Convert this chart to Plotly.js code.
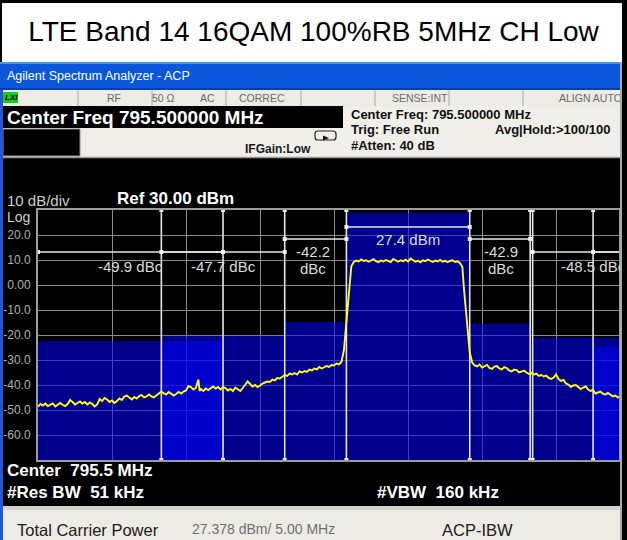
<!DOCTYPE html>
<html><head><meta charset="utf-8">
<script src="https://cdn.plot.ly/plotly-3.0.1.min.js"></script>
<style>
html,body{margin:0;padding:0;background:#fff;overflow:hidden}
#wrap{position:relative;width:627px;height:540px}
#chart{width:627px;height:540px}
.fr{position:absolute;pointer-events:none}
</style></head><body>
<div id="wrap"><div id="chart"></div>
<div class="fr" style="left:0;top:0;width:627px;height:3px;background:#000"></div>
<div class="fr" style="left:0;top:0;width:2px;height:62px;background:#000"></div>
<div class="fr" style="left:622px;top:0;width:5px;height:62px;background:#000"></div>
<div class="fr" style="left:620px;top:62px;width:7px;height:478px;background:#000;border-left:2px solid #a8a8a8;box-sizing:border-box"></div>
</div>
<script>
// ---- spectrum trace (MHz offset from 795.5 MHz centre, dBm) ----
const freqMHz = [
 -15.0,-14.9,-14.8,-14.7,-14.6,-14.5,-14.4,-14.3,-14.2,-14.1,
 -14.0,-13.9,-13.8,-13.7,-13.6,-13.5,-13.4,-13.3,-13.2,-13.1,
 -13.0,-12.9,-12.8,-12.7,-12.6,-12.5,-12.4,-12.3,-12.2,-12.1,
 -12.0,-11.9,-11.8,-11.7,-11.6,-11.5,-11.4,-11.3,-11.2,-11.1,
 -11.0,-10.9,-10.8,-10.7,-10.6,-10.5,-10.4,-10.3,-10.2,-10.1,
 -10.0,-9.9,-9.8,-9.7,-9.6,-9.5,-9.4,-9.3,-9.2,-9.1,
 -9.0,-8.9,-8.8,-8.7,-8.6,-8.5,-8.45,-8.4,-8.3,-8.2,-8.1,
 -8.0,-7.9,-7.8,-7.7,-7.6,-7.5,-7.4,-7.3,-7.2,-7.1,
 -7.0,-6.9,-6.8,-6.7,-6.6,-6.5,-6.4,-6.3,-6.2,-6.1,
 -6.0,-5.9,-5.8,-5.7,-5.6,-5.5,-5.4,-5.3,-5.2,-5.1,
 -5.0,-4.9,-4.8,-4.7,-4.6,-4.5,-4.4,-4.3,-4.2,-4.1,
 -4.0,-3.9,-3.8,-3.7,-3.6,-3.5,-3.4,-3.3,-3.2,-3.1,
 -3.0,-2.9,-2.8,-2.7,-2.6,-2.5,-2.4,-2.3,-2.2,
 -2.1,-2.0,-1.9,-1.8,-1.7,-1.6,-1.5,-1.4,-1.3,-1.2,
 -1.1,-1.0,-0.9,-0.8,-0.7,-0.6,-0.5,-0.4,-0.3,-0.2,
 -0.1,0.0,0.1,0.2,0.3,0.4,0.5,0.6,0.7,0.8,
 0.9,1.0,1.1,1.2,1.3,1.4,1.5,1.6,1.7,1.8,
 1.9,2.0,2.1,2.2,2.27,2.38,2.5,2.6,
 2.7,2.8,2.9,3.0,3.1,3.2,3.3,3.4,3.5,3.6,
 3.7,3.8,3.9,4.0,4.1,4.2,4.3,4.4,4.5,4.6,
 4.7,4.8,4.9,5.0,5.1,5.2,5.3,5.4,5.5,5.6,
 5.7,5.8,5.9,6.0,6.1,6.2,6.3,6.4,6.5,6.6,
 6.7,6.8,6.9,7.0,7.1,7.2,7.3,7.4,7.5,7.6,
 7.7,7.8,7.9,8.0,8.1,8.2,8.3,8.4,8.5,8.6,
 8.7,8.8
];
const traceDbm = [
 -48.6,-47.6,-48.2,-47.4,-48.4,-47.8,-47.4,-48.6,-48.0,-47.2,
 -47.9,-48.4,-47.6,-46.0,-46.8,-47.8,-47.2,-46.6,-47.4,-46.8,
 -47.8,-47.0,-47.6,-48.6,-47.8,-45.6,-46.4,-45.2,-45.8,-46.8,
 -46.2,-47.2,-46.4,-45.4,-46.0,-44.6,-44.2,-45.2,-45.8,-44.8,
 -45.4,-44.4,-44.0,-45.0,-44.6,-43.8,-44.6,-45.0,-44.2,-43.4,
 -42.6,-43.4,-43.8,-42.8,-43.4,-44.2,-43.6,-42.8,-43.4,-42.6,
 -42.2,-40.4,-40.8,-41.8,-41.2,-37.8,-42.4,-41.6,-42.4,-41.4,-42.0,
 -41.2,-40.6,-41.4,-40.8,-41.8,-40.8,-41.2,-42.2,-41.6,-42.4,
 -41.0,-41.8,-42.4,-41.2,-40.0,-38.6,-39.6,-40.6,-40.0,-40.8,
 -40.2,-39.4,-39.0,-38.6,-38.8,-37.8,-38.2,-37.2,-37.4,-36.6,
 -36.0,-36.4,-35.4,-35.8,-35.2,-35.8,-34.6,-35.0,-34.4,-34.8,
 -33.8,-34.2,-33.4,-33.8,-32.8,-33.4,-33.0,-32.4,-32.8,-32.0,
 -32.2,-31.4,-31.8,-30.8,-26.0,-15.0,-2.0,7.5,9.2,
 9.8,9.4,10.2,9.6,9.9,9.3,9.7,10.3,9.5,9.1,
 9.8,9.4,10.0,9.6,9.2,10.4,9.7,9.3,9.9,9.5,
 10.1,9.4,10.6,9.8,9.3,9.7,9.1,9.9,9.5,10.2,
 9.6,9.2,9.8,9.4,10.0,9.3,9.7,9.1,9.6,9.9,
 9.2,9.5,8.8,7.3,-2.0,-15.3,-27.0,-31.0,
 -32.2,-32.6,-31.8,-33.0,-32.4,-32.0,-33.2,-33.6,-32.6,-32.4,
 -33.4,-33.8,-32.8,-33.2,-34.2,-34.6,-33.8,-34.0,-35.0,-34.6,
 -34.2,-35.0,-35.6,-35.2,-35.8,-35.4,-36.4,-36.0,-36.6,-36.2,
 -37.2,-37.6,-37.0,-35.8,-37.6,-38.4,-38.0,-39.4,-39.8,-40.8,
 -40.2,-40.0,-40.8,-41.6,-41.0,-40.6,-41.8,-42.4,-42.0,-43.4,
 -43.0,-42.6,-43.6,-43.8,-43.2,-43.8,-44.6,-44.2,-45.0,-44.6,
 -45.4,-45.6
];

// ---- ACP bar graph: carrier, offset A (L/R), offset B (L/R), offset C (L/R) ----
const barCenterMHz = [0, -3.75, 3.75, -7.5, 7.5, -11.25, 11.25];
const barWidthMHz  = [5, 2.5, 2.5, 5, 5, 7.5, 7.5];
const barDbm       = [28.8, -14.8, -15.5, -20.3, -21.1, -22.5, -24.8];

// ---- integration brackets ----
const bracketStartMHz = [-2.5, -5, 2.5, -10, -15, 5.05, 7.5];
const bracketEndMHz   = [2.5, -2.5, 4.95, -5, -7.5, 10, 15];
const bracketDbm      = [23.2, 18.4, 18.4, 13.2, 13.2, 13.2, 13.2];

// ---- vertical limit lines ----
const limitLineMHz = [-10, -7.5, -5, -2.5, 2.5, 4.95, 5.05, 7.5, 10];

// ---- result labels ----
const labelText = ['27.4 dBm', '-42.2', 'dBc', '-42.9', 'dBc', '-47.7 dBc', '-49.9 dBc', '-48.5 dBc'];
const labelMHz  = [0, -3.85, -3.85, 3.75, 3.75, -7.5, -11.25, 7.5];
const labelDbm  = [18, 13.3, 6.8, 13.3, 6.8, 7.6, 7.6, 7.6];

// ---- axes ----
const yRange = [-70, 30];
const xRange = [-15, 8.55];
const yTickVals = [20, 10, 0, -10, -20, -30, -40, -50, -60];
const yTickText = ['20.0', '10.0', '0.00', '-10.0', '-20.0', '-30.0', '-40.0', '-50.0', '-60.0'];
const xGridMHz = [-12, -9, -6, -3, 0, 3, 6];

// ---- helpers for the analyzer chrome (pixel -> paper) ----
const W = 627, H = 540;
const px = x => x / W, py = y => 1 - y / H;
function rect(x0, y0, x1, y1, fill, lc, lw) {
  return {type:'rect', xref:'paper', yref:'paper', layer:'below',
    x0:px(x0), x1:px(x1), y0:py(y1), y1:py(y0), fillcolor:fill,
    line:{width: lw || 0, color: lc || fill}};
}
function seg(x0, y0, x1, y1, color, w) {
  return {type:'line', xref:'paper', yref:'paper', layer:'below',
    x0:px(x0), x1:px(x1), y0:py(y0), y1:py(y1), line:{color:color, width:w || 1}};
}
function path(str, fill, lc, lw) {
  const d = str.replace(/(-?[\d.]+),(-?[\d.]+)/g, (m, a, b) => px(+a).toFixed(5) + ',' + py(+b).toFixed(5));
  return {type:'path', xref:'paper', yref:'paper', layer:'below', path:d,
    fillcolor:fill || 'rgba(0,0,0,0)', line:{color:lc || 'rgba(0,0,0,0)', width:lw || 0}};
}
function T(text, x, y, size, color, opts) {
  opts = opts || {};
  return {text:text, xref:'paper', yref:'paper', x:px(x), y:py(y), showarrow:false,
    xanchor:opts.anchor || 'left', yanchor:'middle',
    font:{family: opts.family || 'Arial, Liberation Sans, sans-serif', size:size, color:color}};
}
const B = s => '<b>' + s + '</b>';

// ---- traces ----
const traces = [];
traces.push({
  type:'bar', x:barCenterMHz, width:barWidthMHz,
  base:barDbm.map(() => yRange[0]), y:barDbm.map(v => v - yRange[0]),
  marker:{color:'rgba(0,0,255,0.55)', line:{width:0}}, hoverinfo:'skip'
});
const vx = [], vy = [];
limitLineMHz.forEach(f => { vx.push(f, f, null); vy.push(yRange[1], yRange[0], null); });
traces.push({type:'scatter', mode:'lines+markers', x:vx, y:vy, cliponaxis:false,
  line:{color:'#e6e6e6', width:1.6},
  marker:{color:'#f0f0f0', size:4, symbol:'square'}, hoverinfo:'skip'});
const bx = [], by = [];
bracketStartMHz.forEach((s, i) => { bx.push(s, bracketEndMHz[i], null); by.push(bracketDbm[i], bracketDbm[i], null); });
traces.push({type:'scatter', mode:'lines+markers', x:bx, y:by,
  line:{color:'#e6e6e6', width:1.5},
  marker:{color:'#f0f0f0', size:4, symbol:'square'}, hoverinfo:'skip'});
traces.push({type:'scatter', mode:'lines', x:freqMHz, y:traceDbm,
  line:{color:'#ffff1a', width:1.9}, hoverinfo:'skip'});

// ---- chrome shapes ----
const shapes = [
  rect(0, 62, 627, 90, '#0a57dc'),
  rect(0, 62, 627, 64, '#4d8ff2'),
  rect(0, 88, 627, 90, '#0840a8'),
  rect(0, 90, 627, 106, '#ecebe4'),
  rect(3, 92, 18, 103, '#19cc19'),
  seg(78, 90, 78, 106, '#a8a8a0'), seg(152, 90, 152, 106, '#a8a8a0'),
  seg(226, 90, 226, 106, '#a8a8a0'), seg(301, 90, 301, 106, '#a8a8a0'),
  seg(375, 90, 375, 106, '#a8a8a0'), seg(449, 90, 449, 106, '#a8a8a0'),
  seg(523, 90, 523, 106, '#a8a8a0'),
  rect(0, 106, 343, 128, '#000'),
  rect(343, 106, 627, 157, '#efeee8'),
  rect(0, 128, 343, 157, '#efeee8'),
  rect(3, 129, 80, 156, '#000', '#8a8a8a', 1),
  rect(0, 157, 627, 506, '#000'),
  seg(0, 157.5, 627, 157.5, '#9a9a94', 1.5),
  path('M 318,131 L 333,131 Q 336,131 336,134 L 336,137 Q 336,140 333,140 L 318,140 Q 315,140 315,137 L 315,134 Q 315,131 318,131 Z', 'rgba(0,0,0,0)', '#222', 1.2),
  path('M 323,135.5 L 329,138 L 323,140.5 Z', '#111'),
  rect(0, 506, 627, 510, '#d4d4cc'),
  rect(0, 510, 627, 540, '#ecebe4'),
  rect(0, 90, 3, 540, '#2456d6')
];

// ---- annotations ----
const annotations = [
  T('Agilent Spectrum Analyzer - ACP', 5, 76, 12.5, '#ffffff'),
  T('<i><b>LXI</b></i>', 3, 97.5, 8, '#000'),
  T('RF', 114, 98, 10.5, '#6a6a6a', {anchor:'center'}),
  T('50 Ω', 163, 98, 10.5, '#6a6a6a', {anchor:'center'}),
  T('AC', 207, 98, 10.5, '#6a6a6a', {anchor:'center'}),
  T('CORREC', 262, 98, 10.5, '#6a6a6a', {anchor:'center'}),
  T('SENSE:INT', 420, 98, 10.5, '#6a6a6a', {anchor:'center'}),
  T('ALIGN AUTO', 557, 98, 10.5, '#6a6a6a'),
  T(B('Center Freq 795.500000 MHz'), 5, 117, 19, '#ffffff'),
  T(B('IFGain:Low'), 243, 149, 12, '#1a1a1a'),
  T(B('Center Freq: 795.500000 MHz'), 349, 114, 13, '#111'),
  T(B('Trig: Free Run'), 349, 129, 13, '#111'),
  T(B('Avg|Hold:>100/100'), 493, 129, 13, '#111'),
  T(B('#Atten: 40 dB'), 349, 145, 13, '#111'),
  T('10 dB/div', 5, 200, 15, '#cfcfcf'),
  T(B('Ref 30.00 dBm'), 115, 199, 17, '#ffffff'),
  T('Log', 5, 217, 14, '#cfcfcf'),
  T(B('Center\u00a0\u00a0795.5 MHz'), 5, 470, 17, '#ffffff'),
  T(B('#Res BW\u00a0\u00a051 kHz'), 5, 492, 17, '#ffffff'),
  T(B('#VBW\u00a0\u00a0160 kHz'), 375, 492, 17, '#ffffff'),
  T('Total Carrier Power', 15, 530, 16.5, '#202020'),
  T('27.378 dBm/ 5.00 MHz', 190, 529, 14, '#707070'),
  T('ACP-IBW', 440, 530, 16.5, '#202020')
];
labelText.forEach((t, i) => annotations.push({
  text:t, xref:'x', yref:'y', x:labelMHz[i], y:labelDbm[i], showarrow:false,
  xanchor:'center', yanchor:'middle',
  font:{family:'Arial, Liberation Sans, sans-serif', size:15, color:'#dcdcdc'}
}));

const layout = {
  width:W, height:H, autosize:false,
  margin:{l:0, r:0, t:0, b:0, pad:0},
  paper_bgcolor:'#ffffff', plot_bgcolor:'#000000',
  showlegend:false, barmode:'overlay', hovermode:false,
  title:{text:'LTE Band 14 16QAM 100%RB 5MHz CH Low', x:0.5, xanchor:'center', xref:'paper',
    y:1 - 31 / H, yanchor:'middle', yref:'container',
    font:{family:'Arial, Liberation Sans, sans-serif', size:28, color:'#000'}},
  xaxis:{domain:[38 / W, 619 / W], range:xRange, tickvals:xGridMHz, showticklabels:false, ticks:'',
    showgrid:true, gridcolor:'#8a8a8a', gridwidth:1, zeroline:false,
    showline:true, mirror:true, linecolor:'#9c9c9c', linewidth:2, fixedrange:true},
  yaxis:{domain:[1 - 460 / H, 1 - 210 / H], range:yRange, tickvals:yTickVals, ticktext:yTickText,
    tickfont:{family:'Arial, Liberation Sans, sans-serif', size:12, color:'#b0b0b0'},
    ticks:'', ticklabelstandoff:3,
    showgrid:true, gridcolor:'#8a8a8a', gridwidth:1, zeroline:false,
    showline:true, mirror:true, linecolor:'#9c9c9c', linewidth:2, fixedrange:true},
  shapes:shapes, annotations:annotations
};
Plotly.newPlot('chart', traces, layout, {staticPlot:true, displayModeBar:false});
</script>
</body></html>
